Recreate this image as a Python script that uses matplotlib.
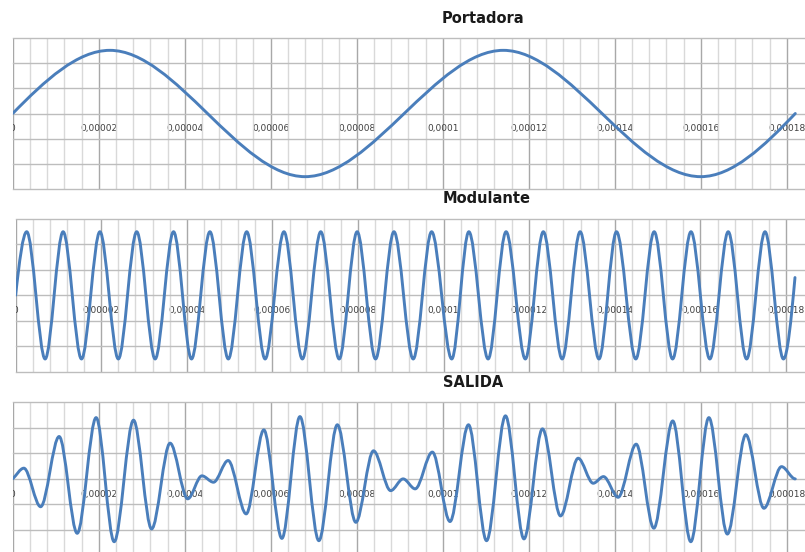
import numpy as np
import matplotlib
matplotlib.use('Agg')
import matplotlib.pyplot as plt
from matplotlib.path import Path
from matplotlib.patches import PathPatch

# tiempos en microsegundos, valores en los extremos
port_t = [0, 22.6, 68.0, 114.1, 160.0, 182.0]
port_v = [0, 5.0, -5.0, 5.0, -5.0, 0]

mod_t = [0, 2.6, 6.9, 11.1, 15.4, 19.7, 24.0, 28.3, 32.6, 36.9, 41.1, 45.4,
         49.7, 54.0, 58.3, 62.7, 67.0, 71.3, 75.6, 79.8, 84.1, 88.4, 92.9,
         97.2, 101.9, 105.9, 110.4, 114.6, 119.1, 123.3, 127.7, 131.9, 136.3,
         140.4, 144.9, 149.2, 153.5, 157.8, 162.2, 166.5, 170.8, 175.1, 179.4,
         182.1]
mod_v = [0, 5.0, -5.0, 5.0, -5.0, 5.0, -5.0, 5.0, -5.0, 5.0, -5.0, 5.0,
         -5.0, 5.0, -5.0, 5.0, -5.0, 5.0, -5.0, 5.0, -5.0, 5.0, -5.0,
         5.0, -5.0, 5.0, -5.0, 5.0, -5.0, 5.0, -5.0, 5.0, -5.0,
         5.0, -5.0, 5.0, -5.0, 5.0, -5.0, 5.0, -5.0, 5.0, -5.0,
         1.4]

sal_t = [0, 2.6, 6.5, 10.8, 15.0, 19.4, 23.6, 28.1, 32.3, 36.6, 40.7, 44.0,
         46.7, 50.1, 54.3, 58.4, 62.6, 66.8, 71.2, 75.5, 79.8, 83.9, 87.9,
         90.8, 93.6, 97.6, 101.7, 106.0, 110.2, 114.6, 118.9, 123.2, 127.4,
         131.5, 135.0, 137.4, 140.8, 145.0, 149.1, 153.5, 157.7, 161.9, 166.2,
         170.5, 174.7, 178.8, 182.0]
sal_v = [0, 4.2, -10.9, 16.6, -21.3, 24.0, -24.6, 23.0, -19.6, 14.0, -7.8, 1.2,
         -1.3, 7.2, -13.7, 19.2, -23.3, 24.4, -24.2, 21.2, -17.0, 11.0, -4.6,
         0.0, -3.9, 10.5, -16.7, 21.2, -24.2, 24.7, -23.5, 19.6, -14.5,
         8.1, -1.7, 0.9, -7.2, 13.6, -19.3, 22.7, -24.6, 24.0, -21.6,
         17.3, -11.5, 4.8, 0.0]

tick_vals = [0, 0.00002, 0.00004, 0.00006, 0.00008, 0.0001,
             0.00012, 0.00014, 0.00016, 0.00018]
tick_labels = ['0', '0,00002', '0,00004', '0,00006', '0,00008', '0,0001',
               '0,00012', '0,00014', '0,00016', '0,00018']

titles = ['Portadora', 'Modulante', 'SALIDA']

W, H = 805, 552
azul = '#4a7ebb'


def curva_suave(ax, t_us, v, k_ini, k_fin):
    # linea suavizada tipo Excel: pendiente 0 en los extremos intermedios
    x = np.array(t_us) * 1e-6
    y = np.array(v, dtype=float)
    m = np.zeros(len(x))
    m[0] = k_ini * (y[1] - y[0]) / (x[1] - x[0])
    m[-1] = k_fin * (y[-1] - y[-2]) / (x[-1] - x[-2])
    verts = [(x[0], y[0])]
    codes = [Path.MOVETO]
    for i in range(len(x) - 1):
        dx = x[i + 1] - x[i]
        verts.append((x[i] + dx / 3, y[i] + m[i] * dx / 3))
        verts.append((x[i + 1] - dx / 3, y[i + 1] - m[i + 1] * dx / 3))
        verts.append((x[i + 1], y[i + 1]))
        codes += [Path.CURVE4] * 3
    patch = PathPatch(Path(verts, codes), facecolor='none', edgecolor=azul,
                      lw=2.1, capstyle='round', joinstyle='round', zorder=3)
    ax.add_patch(patch)


def preparar(ax, xmax_us, ymax, ystep):
    ax.set_xlim(0, xmax_us * 1e-6)
    ax.set_ylim(-ymax, ymax)
    ax.set_xticks(tick_vals)
    ax.set_xticklabels(tick_labels)
    ax.set_xticks(np.arange(0, 181, 4) * 1e-6, minor=True)
    ax.set_yticks(np.arange(-ymax, ymax + ystep / 2, ystep))
    ax.tick_params(axis='y', length=0, labelleft=False)
    ax.tick_params(axis='x', which='both', length=0, pad=7.8,
                   labelsize=6.5, labelcolor='#404040')
    ax.grid(True, axis='x', which='major', color='#a8a8a8', lw=1.0)
    ax.grid(True, axis='x', which='minor', color='#d9d9d9', lw=1.0)
    ax.grid(True, axis='y', color='#bdbdbd', lw=1.0)
    for s in ax.spines.values():
        s.set_visible(False)
    ax.spines['bottom'].set_position(('data', 0))
    ax.set_axisbelow(True)
    for ln in ax.get_ygridlines():
        ln.set_clip_on(False)
    lab0 = ax.xaxis.get_major_ticks()[0].label1
    lab0.set_clip_box(ax.bbox)
    lab0.set_clip_on(True)


def caja(left, top, bottom):
    return [left / W, 1 - bottom / H, (W - left) / W, (bottom - top) / H]


fig = plt.figure(figsize=(W / 100, H / 100), dpi=100)

ax1 = fig.add_axes(caja(12.7, 37.7, 189.3))
preparar(ax1, (W - 12.7) / 4.3, 6, 2)
curva_suave(ax1, port_t, port_v, np.pi / 2, np.pi / 2)

ax2 = fig.add_axes(caja(15.6, 219.0, 371.7))
preparar(ax2, (W - 15.6) / 4.28, 6, 2)
curva_suave(ax2, mod_t, mod_v, np.pi / 2, np.pi / 2)

ax3 = fig.add_axes(caja(12.7, 402.3, 555.5))
preparar(ax3, (W - 12.7) / 4.3, 30, 10)
curva_suave(ax3, sal_t, sal_v, 1.0, 0.0)

fig.text(483 / W, 1 - 22.7 / H, titles[0], ha='center', va='baseline',
         fontsize=10.5, fontweight='bold', color='#1a1a1a')
fig.text(487 / W, 1 - 203.3 / H, titles[1], ha='center', va='baseline',
         fontsize=10.5, fontweight='bold', color='#1a1a1a')
fig.text(473.5 / W, 1 - 387.3 / H, titles[2], ha='center', va='baseline',
         fontsize=10.5, fontweight='bold', color='#1a1a1a')

fig.savefig('out.png', dpi=100)
